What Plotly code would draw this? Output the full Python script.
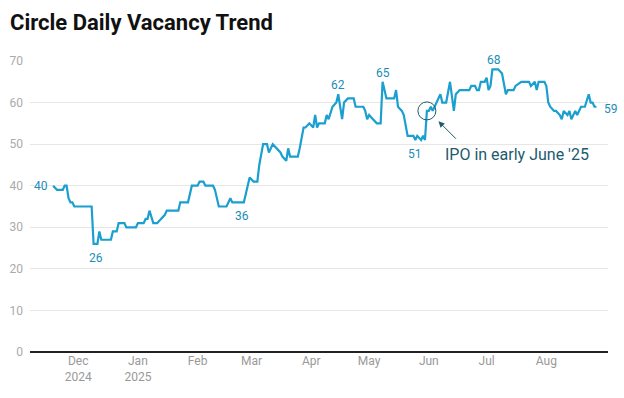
import plotly.graph_objects as go

dates = [
    "2024-11-18", "2024-11-20", "2024-11-23", "2024-11-24", "2024-11-25", "2024-11-26",
    "2024-11-27", "2024-11-28", "2024-11-29", "2024-12-08", "2024-12-09", "2024-12-11",
    "2024-12-12", "2024-12-13", "2024-12-18", "2024-12-19", "2024-12-21", "2024-12-22",
    "2024-12-25", "2024-12-26", "2024-12-31", "2025-01-01", "2025-01-04", "2025-01-05",
    "2025-01-06", "2025-01-07", "2025-01-09", "2025-01-11", "2025-01-13", "2025-01-15",
    "2025-01-16", "2025-01-22", "2025-01-23", "2025-01-27", "2025-01-29", "2025-02-01",
    "2025-02-02", "2025-02-04", "2025-02-05", "2025-02-09", "2025-02-10", "2025-02-11",
    "2025-02-12", "2025-02-16", "2025-02-18", "2025-02-19", "2025-02-25", "2025-02-26",
    "2025-02-28", "2025-03-02", "2025-03-04", "2025-03-05", "2025-03-07", "2025-03-09",
    "2025-03-10", "2025-03-12", "2025-03-14", "2025-03-16", "2025-03-17", "2025-03-19",
    "2025-03-20", "2025-03-21", "2025-03-25", "2025-03-26", "2025-03-28", "2025-03-29",
    "2025-03-31", "2025-04-02", "2025-04-03", "2025-04-04", "2025-04-05", "2025-04-08",
    "2025-04-09", "2025-04-10", "2025-04-12", "2025-04-14", "2025-04-15", "2025-04-17",
    "2025-04-18", "2025-04-20", "2025-04-23", "2025-04-24", "2025-04-28", "2025-04-29",
    "2025-04-30", "2025-05-01", "2025-05-03", "2025-05-05", "2025-05-07", "2025-05-08",
    "2025-05-10", "2025-05-14", "2025-05-15", "2025-05-16", "2025-05-18", "2025-05-19",
    "2025-05-21", "2025-05-24", "2025-05-25", "2025-05-26", "2025-05-28", "2025-05-29",
    "2025-05-30", "2025-05-31", "2025-06-01", "2025-06-02", "2025-06-03", "2025-06-04",
    "2025-06-05", "2025-06-07", "2025-06-08", "2025-06-10", "2025-06-12", "2025-06-13",
    "2025-06-14", "2025-06-15", "2025-06-17", "2025-06-22", "2025-06-23", "2025-06-25",
    "2025-06-26", "2025-06-27", "2025-06-28", "2025-06-30", "2025-07-01", "2025-07-02",
    "2025-07-03", "2025-07-04", "2025-07-07", "2025-07-09", "2025-07-10", "2025-07-11",
    "2025-07-12", "2025-07-15", "2025-07-16", "2025-07-19", "2025-07-23", "2025-07-24",
    "2025-07-26", "2025-07-27", "2025-07-28", "2025-07-29", "2025-07-31", "2025-08-01",
    "2025-08-02", "2025-08-03", "2025-08-05", "2025-08-06", "2025-08-08", "2025-08-09",
    "2025-08-10", "2025-08-12", "2025-08-13", "2025-08-14", "2025-08-16", "2025-08-17",
    "2025-08-18", "2025-08-19", "2025-08-21", "2025-08-23", "2025-08-24", "2025-08-25",
    "2025-08-26", "2025-08-27",
]
vacancy = [
    40, 39, 39, 40, 40, 37,
    36, 36, 35, 35, 26, 26,
    29, 27, 27, 29, 29, 31,
    31, 30, 30, 31, 31, 32,
    32, 34, 31, 31, 32, 33,
    34, 34, 36, 36, 40, 40,
    41, 41, 40, 40, 39, 37,
    35, 35, 37, 36, 36, 38,
    42, 41, 41, 45, 50, 50,
    48, 50, 49, 48, 47, 46,
    49, 47, 47, 49, 54, 54,
    55, 54, 57, 54, 55, 55,
    57, 56, 59, 60, 62, 56,
    60, 61, 61, 59, 59, 58,
    56, 57, 56, 55, 55, 65,
    61, 61, 63, 59, 58, 57,
    52, 52, 51, 52, 51, 52,
    51, 58, 58, 59, 58, 59,
    60, 62, 60, 60, 65, 61,
    58, 62, 63, 63, 64, 64,
    63, 63, 65, 65, 66, 63,
    64, 68, 68, 67, 64, 62,
    63, 63, 64, 65, 65, 64,
    65, 63, 65, 65, 65, 64,
    60, 59, 58, 58, 57, 56,
    58, 57, 58, 56, 58, 57,
    58, 59, 59, 62, 60, 60,
    59, 59,
]

# labelled points: (date, value, text, position)
labels = [
    ("2024-11-18", 40, "40", "left"),
    ("2024-12-10", 26, "26", "below"),
    ("2025-02-24", 36, "36", "below"),
    ("2025-04-15", 62, "62", "above"),
    ("2025-05-08", 65, "65", "above"),
    ("2025-05-25", 51, "51", "below"),
    ("2025-07-05", 68, "68", "above"),
    ("2025-08-27", 59, "59", "right"),
]

month_ticks = ["2024-12-01", "2025-01-01", "2025-02-01", "2025-03-01", "2025-04-01",
               "2025-05-01", "2025-06-01", "2025-07-01", "2025-08-01"]
month_text = ["Dec<br>2024", "Jan<br>2025", "Feb", "Mar", "Apr", "May", "Jun", "Jul", "Aug"]

LINE = "#1a9fcf"
LABEL = "#1b8db8"
ANN = "#1e5a6e"

fig = go.Figure()
fig.add_trace(go.Scatter(
    x=dates, y=vacancy, mode="lines",
    line=dict(color=LINE, width=2.2), hoverinfo="x+y", showlegend=False,
))

for d, v, t, pos in labels:
    kw = dict(x=d, y=v, text=t, showarrow=False,
              font=dict(family="Roboto", size=12, color=LABEL))
    if pos == "left":
        kw.update(xanchor="right", yanchor="middle", xshift=-3)
    elif pos == "right":
        kw.update(xanchor="left", yanchor="middle", xshift=6, yshift=-2)
    elif pos == "below":
        kw.update(xanchor="center", yanchor="top", yshift=-5)
    else:
        kw.update(xanchor="center", yanchor="bottom", yshift=0)
    fig.add_annotation(**kw)

# IPO marker circle
fig.add_shape(type="circle", xref="x", yref="y", xsizemode="pixel", ysizemode="pixel",
              xanchor="2025-05-31", yanchor=58, x0=-9, x1=9, y0=-9, y1=9,
              line=dict(color=ANN, width=1))
fig.add_annotation(x="2025-06-06", y=55.5, ax=19, ay=19, text="", showarrow=True,
                   arrowhead=2, arrowsize=1.2, arrowwidth=1, arrowcolor=ANN)
fig.add_annotation(x="2025-06-03", y=48.5, text="IPO in early June '25", showarrow=False,
                   xanchor="left", yanchor="middle", xshift=10, yshift=-4,
                   font=dict(family="Roboto", size=16, color=ANN))

fig.update_layout(
    width=624, height=398,
    margin=dict(l=30, r=16, t=61, b=46, autoexpand=False),
    paper_bgcolor="white", plot_bgcolor="white",
    title=dict(text="<b>Circle Daily Vacancy Trend</b>", x=10 / 624, xref="container",
               xanchor="left", y=1 - 22 / 398, yref="container", yanchor="middle",
               font=dict(family="Roboto", size=22, color="#111111")),
    font=dict(family="Roboto"),
)

fig.update_xaxes(
    type="date", range=["2024-11-06", "2025-09-02"],
    tickvals=month_ticks, ticktext=month_text, automargin=False,
    showgrid=False, zeroline=False, showline=False,
    ticks="", tickfont=dict(family="Roboto", size=12, color="#999999"),
)
fig.update_yaxes(
    range=[0, 70], tickvals=[0, 10, 20, 30, 40, 50, 60, 70], automargin=False,
    showgrid=True, gridcolor="#e6e6e6", gridwidth=1,
    zeroline=True, zerolinecolor="#222222", zerolinewidth=1.5,
    ticks="", tickfont=dict(family="Roboto", size=12, color="#aaaaaa"),
    ticklabelstandoff=6,
)

fig.write_html("out.html", config={"displayModeBar": False},
               post_script="document.body.style.margin='0';")
